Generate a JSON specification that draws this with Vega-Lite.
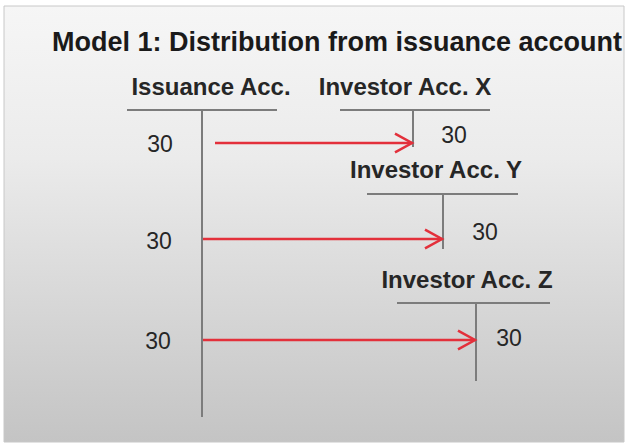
{
  "$schema": "https://vega.github.io/schema/vega-lite/v6.json",
  "width": 627,
  "height": 446,
  "autosize": {"type": "fit", "contains": "padding"},
  "padding": 0,
  "background": "#ffffff",
  "config": {"view": {"stroke": null}},
  "datasets": {
    "box": [{"x": 4, "x2": 624, "y": 6, "y2": 442}],
    "lines": [
      {"part": "Issuance Acc. top", "x": 127, "x2": 277, "y": 110, "y2": 110},
      {"part": "Issuance Acc. stem", "x": 202, "x2": 202, "y": 110, "y2": 417},
      {"part": "Investor Acc. X top", "x": 340, "x2": 490, "y": 110, "y2": 110},
      {"part": "Investor Acc. X stem", "x": 413, "x2": 413, "y": 110, "y2": 147},
      {"part": "Investor Acc. Y top", "x": 367, "x2": 518, "y": 194, "y2": 194},
      {"part": "Investor Acc. Y stem", "x": 443, "x2": 443, "y": 194, "y2": 249},
      {"part": "Investor Acc. Z top", "x": 397, "x2": 550, "y": 303, "y2": 303},
      {"part": "Investor Acc. Z stem", "x": 476, "x2": 476, "y": 303, "y2": 381}
    ],
    "arrows": [
      {"to": "Investor Acc. X", "x": 215, "x2": 412, "y": 143},
      {"to": "Investor Acc. Y", "x": 203, "x2": 442, "y": 239},
      {"to": "Investor Acc. Z", "x": 203, "x2": 475, "y": 340}
    ],
    "title": [{"label": "Model 1: Distribution from issuance account", "x": 337, "y": 51}],
    "headers": [
      {"label": "Issuance Acc.", "x": 211, "y": 95},
      {"label": "Investor Acc. X", "x": 405, "y": 95},
      {"label": "Investor Acc. Y", "x": 436, "y": 178},
      {"label": "Investor Acc. Z", "x": 467, "y": 288}
    ],
    "amounts": [
      {"label": "30", "x": 160, "y": 152},
      {"label": "30", "x": 159, "y": 249},
      {"label": "30", "x": 158, "y": 349},
      {"label": "30", "x": 454, "y": 143},
      {"label": "30", "x": 485, "y": 240},
      {"label": "30", "x": 509, "y": 346}
    ]
  },
  "encoding": {
    "x": {"field": "x", "type": "quantitative", "scale": {"domain": [0, 627], "nice": false, "zero": false}, "axis": null},
    "y": {"field": "y", "type": "quantitative", "scale": {"domain": [0, 446], "nice": false, "zero": false, "reverse": true}, "axis": null}
  },
  "layer": [
    {
      "data": {"name": "box"},
      "mark": {
        "type": "rect",
        "stroke": "#c8c8c8",
        "strokeWidth": 1,
        "color": {
          "gradient": "linear",
          "x1": 0, "y1": 0, "x2": 0, "y2": 1,
          "stops": [
            {"offset": 0, "color": "#f6f6f6"},
            {"offset": 0.35, "color": "#ebebeb"},
            {"offset": 1, "color": "#c4c4c4"}
          ]
        }
      },
      "encoding": {"x2": {"field": "x2"}, "y2": {"field": "y2"}}
    },
    {
      "data": {"name": "lines"},
      "mark": {"type": "rule", "color": "#7c7c7c", "strokeWidth": 2},
      "encoding": {"x2": {"field": "x2"}, "y2": {"field": "y2"}}
    },
    {
      "data": {"name": "arrows"},
      "mark": {"type": "rule", "color": "#e3303b", "strokeWidth": 2.5},
      "encoding": {"x2": {"field": "x2"}, "y2": {"field": "y"}}
    },
    {
      "data": {"name": "arrows"},
      "mark": {"type": "point", "shape": "M-1,-0.55L0,0L-1,0.55", "filled": false, "stroke": "#e3303b", "strokeWidth": 2.5, "size": 1156, "opacity": 1},
      "encoding": {"x": {"field": "x2", "type": "quantitative"}}
    },
    {
      "data": {"name": "title"},
      "mark": {"type": "text", "font": "Liberation Sans", "fontWeight": "bold", "fontSize": 27, "color": "#1a1a1a", "align": "center", "baseline": "alphabetic"},
      "encoding": {"text": {"field": "label"}}
    },
    {
      "data": {"name": "headers"},
      "mark": {"type": "text", "font": "Liberation Sans", "fontWeight": "bold", "fontSize": 24, "color": "#262626", "align": "center", "baseline": "alphabetic"},
      "encoding": {"text": {"field": "label"}}
    },
    {
      "data": {"name": "amounts"},
      "mark": {"type": "text", "font": "Liberation Sans", "fontSize": 23, "color": "#262626", "align": "center", "baseline": "alphabetic"},
      "encoding": {"text": {"field": "label"}}
    }
  ]
}
